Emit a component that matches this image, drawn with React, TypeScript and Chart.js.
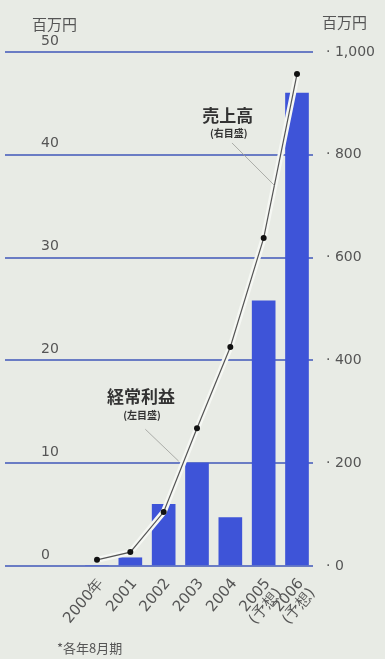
import { useEffect, useRef } from "react";
import { Chart, registerables } from "chart.js";

Chart.register(...registerables);

// ---- data ----
const years = [2000, 2001, 2002, 2003, 2004, 2005, 2006];
const yearLabels: (string | string[])[] = [
  "2000年",
  "2001",
  "2002",
  "2003",
  "2004",
  ["2005", "(予想)"],
  ["2006", "(予想)"],
];
// 経常利益 (左目盛, 百万円)
const profit = [0, 0.8, 6, 10, 4.7, 25.8, 46];
// 売上高 (右目盛, 百万円)
const sales = [12, 27, 105, 268, 426, 638, 957];
const leftMax = 50;
const leftStep = 10;
const rightMax = 1000;
const rightStep = 200;

const unitLabel = "百万円";
const footnote = "*各年8月期";
const salesName = "売上高";
const salesSub = "(右目盛)";
const profitName = "経常利益";
const profitSub = "(左目盛)";

const BG = "#e8ebe5";
const JP = '"Noto Sans CJK JP", "Noto Sans", sans-serif';
const NUM = '"DejaVu Sans", sans-serif';

export default function App() {
  const ref = useRef<HTMLCanvasElement | null>(null);

  useEffect(() => {
    document.body.style.margin = "0";
    document.body.style.background = BG;
    const canvas = ref.current!;

    const deco = {
      id: "deco",
      beforeDatasetDraw(chart: any, args: any) {
        if (args.meta.type !== "line") return;
        const pts = args.meta.data;
        const ctx = chart.ctx;
        ctx.save();
        ctx.strokeStyle = "#f6f8f4";
        ctx.lineWidth = 6;
        ctx.lineJoin = "round";
        ctx.beginPath();
        pts.forEach((p: any, i: number) => (i ? ctx.lineTo(p.x, p.y) : ctx.moveTo(p.x, p.y)));
        ctx.stroke();
        ctx.restore();
      },
      afterDraw(chart: any) {
        const ctx = chart.ctx;
        const sx = chart.scales.x;
        const sl = chart.scales.y;
        const sr = chart.scales.y2;
        ctx.save();
        ctx.fillStyle = "#555";
        ctx.textBaseline = "middle";
        // units
        ctx.font = `15px ${JP}`;
        ctx.textAlign = "left";
        ctx.fillText(unitLabel, 32, 24);
        ctx.fillText(unitLabel, 322, 22);
        // footnote
        ctx.font = `13px ${JP}`;
        ctx.fillText(footnote, 57, 648);

        // annotations
        ctx.fillStyle = "#333";
        ctx.textAlign = "center";
        const sX = sx.getPixelForValue(2003.92);
        const sY = sr.getPixelForValue(877);
        ctx.font = `bold 17px ${JP}`;
        ctx.fillText(salesName, sX, sY);
        ctx.font = `bold 10px ${JP}`;
        ctx.fillText(salesSub, sX + 1, sY + 18);

        const pX = sx.getPixelForValue(2001.32);
        const pY = sl.getPixelForValue(16.5);
        ctx.font = `bold 17px ${JP}`;
        ctx.fillText(profitName, pX, pY);
        ctx.font = `bold 10px ${JP}`;
        ctx.fillText(profitSub, pX + 1, pY + 19);

        ctx.strokeStyle = "#9a9c98";
        ctx.lineWidth = 0.8;
        ctx.beginPath();
        ctx.moveTo(sx.getPixelForValue(2004.05), sr.getPixelForValue(823));
        ctx.lineTo(sx.getPixelForValue(2005.33), sr.getPixelForValue(740));
        ctx.moveTo(sx.getPixelForValue(2001.45), sl.getPixelForValue(13.3));
        ctx.lineTo(sx.getPixelForValue(2002.45), sl.getPixelForValue(10.2));
        ctx.stroke();
        ctx.restore();
      },
    };

    const chart = new Chart(canvas, {
      type: "bar",
      data: {
        datasets: [
          {
            type: "line",
            label: salesName,
            data: years.map((x, i) => ({ x, y: sales[i] })),
            yAxisID: "y2",
            borderColor: "#555",
            borderWidth: 1.2,
            pointRadius: 3,
            pointBackgroundColor: "#111",
            pointBorderWidth: 0,
            tension: 0,
            order: 1,
          } as any,
          {
            type: "bar",
            label: profitName,
            data: years.map((x, i) => ({ x, y: profit[i] })),
            yAxisID: "y",
            backgroundColor: "#3e54d8",
            borderWidth: 0,
            barThickness: 23,
            order: 2,
          },
        ],
      },
      options: {
        animation: false,
        responsive: false,
        maintainAspectRatio: false,
        layout: { padding: { top: 52, left: 5, right: 0, bottom: 0 } },
        plugins: { legend: { display: false }, tooltip: { enabled: false } },
        scales: {
          x: {
            type: "linear",
            min: 1997.24,
            max: 2006.48,
            offset: false,
            grid: { display: false, offset: false },
            border: { display: false },
            afterBuildTicks: (s: any) => {
              s.ticks = years.map((v) => ({ value: v }));
            },
            afterFit: (s: any) => {
              s.height = 93;
            },
            ticks: {
              autoSkip: false,
              minRotation: 50,
              maxRotation: 50,
              padding: 2,
              labelOffset: 4,
              color: "#555",
              font: { family: NUM, size: 15, lineHeight: 1.0 },
              callback: (_v: any, i: number) => yearLabels[i],
            },
          },
          y: {
            position: "left",
            min: 0,
            max: leftMax,
            grid: { color: "#6a7cc4", lineWidth: 2, drawTicks: false },
            border: { display: false },
            afterFit: (s: any) => {
              s.width = 0;
            },
            ticks: {
              stepSize: leftStep,
              mirror: true,
              padding: 36,
              labelOffset: -11,
              color: "#555",
              font: { family: NUM, size: 14 },
            },
          },
          y2: {
            position: "right",
            min: 0,
            max: rightMax,
            grid: { display: false, drawTicks: false },
            border: { display: false },
            afterFit: (s: any) => {
              s.width = 72;
            },
            ticks: {
              stepSize: rightStep,
              padding: 13,
              color: "#555",
              font: { family: NUM, size: 14 },
              callback: (v: any) => "· " + Number(v).toLocaleString("en-US"),
            },
          },
        },
      },
      plugins: [deco],
    });
    return () => chart.destroy();
  }, []);

  return (
    <div style={{ position: "fixed", left: 0, top: 0, width: 385, height: 659, background: BG }}>
      <canvas ref={ref} width={385} height={659} style={{ display: "block", width: 385, height: 659 }} />
    </div>
  );
}
